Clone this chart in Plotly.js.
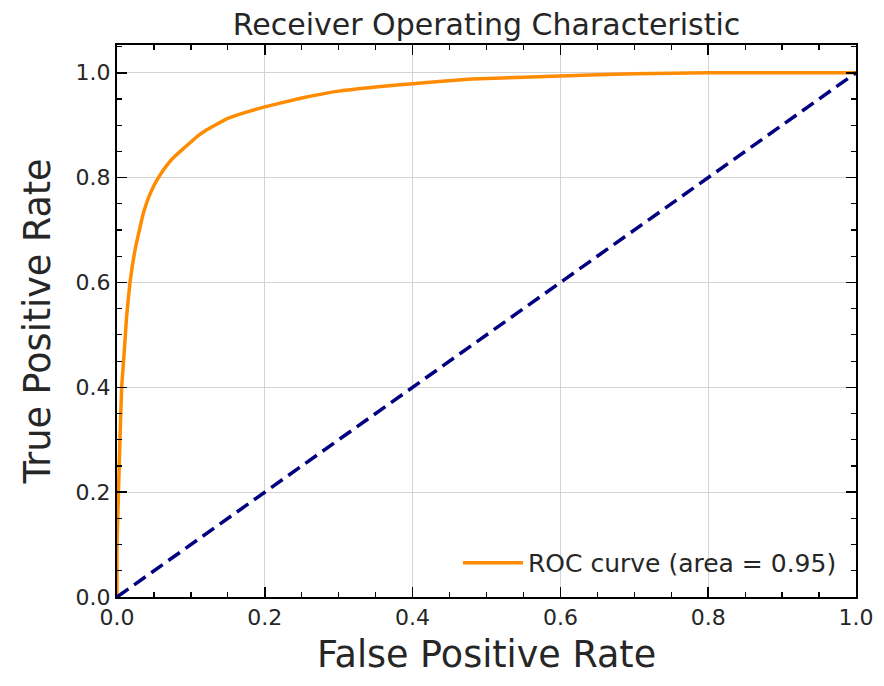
<!DOCTYPE html>
<html>
<head>
<meta charset="utf-8">
<script src="https://cdn.plot.ly/plotly-3.0.1.min.js"></script>
<style>html,body{margin:0;padding:0;background:#fff;}</style>
</head>
<body>
<div id="chart" style="width:884px;height:686px;"></div>
<script>
// ROC curve points
const fpr = [0, 0, 0.001, 0.002, 0.004, 0.0063, 0.0099, 0.013, 0.0176, 0.0244, 0.0356, 0.045, 0.056, 0.07, 0.08, 0.092, 0.1, 0.11, 0.12, 0.13, 0.15, 0.175, 0.2, 0.25, 0.3, 0.35, 0.4, 0.48, 0.6, 0.7, 0.8, 1.0];
const tpr = [0, 0.1, 0.15, 0.2, 0.3, 0.40, 0.47, 0.535, 0.60, 0.662, 0.732, 0.77, 0.80, 0.828, 0.843, 0.858, 0.868, 0.88, 0.89, 0.898, 0.913, 0.925, 0.935, 0.952, 0.965, 0.973, 0.979, 0.988, 0.994, 0.998, 1.0, 1.0];
const chanceX = [0, 1];
const chanceY = [0, 1];
const curveName = "ROC curve (area = 0.95)";
const titleText = "Receiver Operating Characteristic";
const xTitle = "False Positive Rate";
const yTitle = "True Positive Rate";
const tickVals = [0, 0.2, 0.4, 0.6, 0.8, 1.0];
const tickText = ["0.0", "0.2", "0.4", "0.6", "0.8", "1.0"];

const font = "DejaVu Sans, sans-serif";
const txt = "#262626";

const traces = [
  {x: fpr, y: tpr, type: "scatter", mode: "lines", name: curveName,
   line: {color: "#ff8c00", width: 3.5, shape: "spline", smoothing: 0.3}},
  {x: chanceX, y: chanceY, type: "scatter", mode: "lines", showlegend: false,
   line: {color: "#000080", width: 3.5, dash: "14px,7px"}}
];

const axisBase = {
  showline: true, linecolor: "#000", linewidth: 2, mirror: "allticks",
  ticks: "inside", ticklen: 10, tickwidth: 1.5, tickcolor: "#000",
  showgrid: true, gridcolor: "#d3d3d3", gridwidth: 1,
  zeroline: false,
  tickvals: tickVals, ticktext: tickText,
  tickfont: {family: font, size: 22, color: txt},
  minor: {dtick: 0.05, tick0: 0, ticks: "inside", ticklen: 5, tickwidth: 1.2, tickcolor: "#000", showgrid: false}
};

const layout = {
  width: 884, height: 686,
  margin: {l: 117, r: 28, t: 45, b: 89},
  paper_bgcolor: "#fff", plot_bgcolor: "#fff",
  title: {text: titleText, font: {family: font, size: 30, color: txt}, x: 0.5, xref: "paper", y: 0.98, yanchor: "top"},
  xaxis: Object.assign({}, axisBase, {range: [0, 1.0],
    title: {text: xTitle, font: {family: font, size: 36.5, color: txt}, standoff: 12}}),
  yaxis: Object.assign({}, axisBase, {range: [0, 1.053],
    title: {text: yTitle, font: {family: font, size: 36.5, color: txt}, standoff: 14}}),
  legend: {x: 0.981, y: 0.02, xanchor: "right", yanchor: "bottom", bgcolor: "rgba(0,0,0,0)",
    itemwidth: 60,
    font: {family: font, size: 25, color: txt}},
  showlegend: true
};

Plotly.newPlot("chart", traces, layout, {displayModeBar: false, staticPlot: true});
</script>
</body>
</html>
